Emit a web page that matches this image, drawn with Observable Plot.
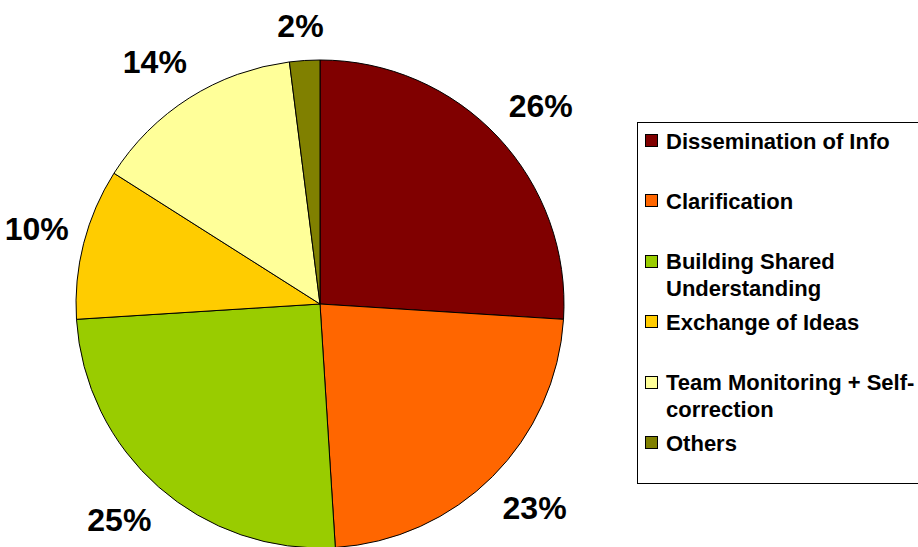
<!DOCTYPE html>
<html><head><meta charset="utf-8">
<script src="https://cdn.jsdelivr.net/npm/d3@7"></script>
<script src="https://cdn.jsdelivr.net/npm/@observablehq/plot@0.6"></script>
<style>
html,body{margin:0;padding:0;background:#fff;overflow:hidden;width:918px;height:547px;}
#wrap{position:relative;width:918px;height:547px;overflow:hidden;}
#chart{position:absolute;left:0;top:0;}
#legend{position:absolute;left:637px;top:122px;width:300px;height:362px;border:1px solid #000;box-sizing:border-box;background:#fff;
  font-family:"Liberation Sans",Arial,sans-serif;font-weight:bold;font-size:22px;color:#000;}
.item{position:absolute;left:28px;width:256px;line-height:27px;}
.sw{position:absolute;left:-21px;top:6.5px;width:11px;height:11px;border:1px solid #000;}
</style></head>
<body>
<div id="wrap"><div id="chart"></div><div id="legend"></div></div>
<script>
const categories = ["Dissemination of Info","Clarification","Building Shared Understanding","Exchange of Ideas","Team Monitoring + Self-correction","Others"];
const shares = [26, 23, 25, 10, 14, 2];
const colors = ["#800000","#FF6600","#99CC00","#FFCC00","#FFFF99","#808000"];
const labels = shares.map(v => v + "%");

const data = categories.map((c, i) => ({category: c, value: shares[i], color: colors[i], label: labels[i]}));
const arcs = d3.pie().sort(null).value(d => d.value).startAngle(0).endAngle(2 * Math.PI)(data);

const W = 918, H = 547, cx = 320, cy = 304, R = 244;
const fs = 32;
// label placement: blend of "box corner on the mid-angle ray" and "box centre on the ray" rules
const labelData = arcs.map(a => {
  const mid = (a.startAngle + a.endAngle) / 2;
  const s = Math.sin(mid), c = Math.cos(mid);
  const w = fs * (0.556 * (a.data.label.length - 1) + 0.889);
  // corner model
  const D1 = R + 21;
  const x1 = s * D1 + Math.sign(s) * Math.min(1, 4 * Math.abs(s)) * w / 2;
  const y1 = c * D1 + Math.sign(c) * Math.min(1, 4 * Math.abs(c)) * 12;
  // centre model
  const D2 = R - 5 + Math.abs(s) * (w / 2 + 8.5) + Math.abs(c) * 39;
  const x2 = s * D2, y2 = c * D2;
  return {x: (x1 + x2) / 2 / R, y: (y1 + y2) / 2 / R, text: a.data.label};
});

function pieMark(index, scales, values, dimensions, context) {
  const x0 = scales.x(0), y0 = scales.y(0), rr = scales.x(1) - scales.x(0);
  const g = d3.create("svg:g").attr("transform", `translate(${x0},${y0})`);
  const arc = d3.arc().innerRadius(0).outerRadius(rr);
  g.selectAll("path").data(arcs).join("path")
    .attr("d", arc)
    .attr("fill", d => d.data.color)
    .attr("stroke", "#000")
    .attr("stroke-width", 1)
    .attr("stroke-linejoin", "round");
  return g.node();
}

const chart = Plot.plot({
  width: W, height: H, margin: 0,
  style: {fontFamily: "'Liberation Sans', Arial, sans-serif", background: "#fff"},
  x: {domain: [-cx / R, (W - cx) / R], axis: null},
  y: {domain: [(cy - H) / R, cy / R], axis: null},
  marks: [
    pieMark,
    Plot.text(labelData, {x: "x", y: "y", text: "text", fontSize: fs, fontWeight: "bold", fill: "#000"})
  ]
});
document.getElementById("chart").appendChild(chart);

const legend = d3.select("#legend");
data.forEach((d, i) => {
  const it = legend.append("div").attr("class", "item").style("top", (4.5 + 60.4 * i) + "px");
  it.append("div").attr("class", "sw").style("background", d.color);
  it.append("span").text(d.category);
});
</script>
</body></html>
